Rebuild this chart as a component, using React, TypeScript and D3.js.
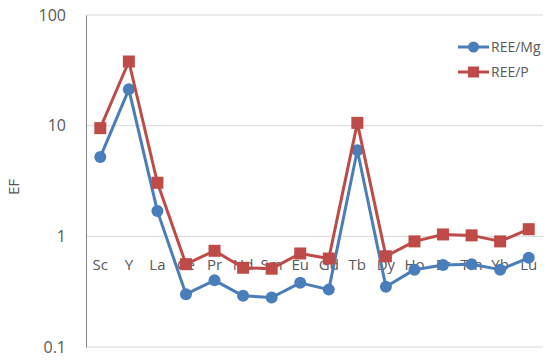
import React from 'react';
import * as d3 from 'd3';

const elements = ['Sc', 'Y', 'La', 'Ce', 'Pr', 'Nd', 'Sm', 'Eu', 'Gd', 'Tb', 'Dy', 'Ho', 'Er', 'Tm', 'Yb', 'Lu'];
const reeMg = [5.2, 21.3, 1.69, 0.30, 0.40, 0.29, 0.28, 0.38, 0.33, 6.0, 0.35, 0.50, 0.55, 0.56, 0.50, 0.64];
const reeP = [9.5, 38, 3.05, 0.56, 0.74, 0.52, 0.51, 0.70, 0.63, 10.6, 0.66, 0.90, 1.04, 1.02, 0.90, 1.16];
const yTicks = [0.1, 1, 10, 100];

const series = [
    { name: 'REE/Mg', values: reeMg, color: '#4A7EBB', marker: 'circle' },
    { name: 'REE/P', values: reeP, color: '#BE4B48', marker: 'square' },
];

const width = 550, height = 361;
const marginLeft = 86, marginRight = 7, marginTop = 15, marginBottom = 14;

export default function App() {
    const ref = React.useRef<SVGSVGElement>(null);

    React.useEffect(() => {
        const svg = d3.select(ref.current);
        svg.selectAll('*').remove();

        const x = d3.scaleBand(elements, [marginLeft, width - marginRight]);
        const y = d3.scaleLog([0.1, 100], [height - marginBottom, marginTop]);
        const cx = (d: string) => x(d)! + x.bandwidth() / 2;

        // gridlines
        svg.append('g')
            .selectAll('line')
            .data(yTicks)
            .join('line')
            .attr('x1', marginLeft)
            .attr('x2', width - marginRight)
            .attr('y1', d => y(d))
            .attr('y2', d => y(d))
            .attr('stroke', '#D9D9D9')
            .attr('stroke-width', 1);

        // y axis
        const yAxis = d3.axisLeft(y).tickValues(yTicks).tickFormat(d => String(d)).tickSize(0).tickPadding(20);
        svg.append('g')
            .attr('transform', `translate(${marginLeft},0)`)
            .call(yAxis)
            .call(g => g.select('.domain').attr('stroke', '#868686'))
            .call(g => g.selectAll('.tick text')
                .attr('fill', '#595959')
                .attr('font-size', 16)
                .attr('font-family', 'Open Sans, sans-serif'));

        svg.append('text')
            .attr('transform', `translate(19,${(y(1) + y(10)) / 2 + 6}) rotate(-90)`)
            .attr('text-anchor', 'middle')
            .attr('fill', '#595959')
            .attr('font-size', 15)
            .attr('font-family', 'Open Sans, sans-serif')
            .text('EF');

        // category labels at y = 1
        svg.append('g')
            .selectAll('text')
            .data(elements)
            .join('text')
            .attr('x', cx)
            .attr('y', y(1) + 34)
            .attr('text-anchor', 'middle')
            .attr('fill', '#595959')
            .attr('font-size', 15)
            .attr('font-family', 'Open Sans, sans-serif')
            .text(d => d);

        const line = d3.line<number>()
            .x((_, i) => cx(elements[i]))
            .y(d => y(d));

        series.forEach(s => {
            const g = svg.append('g');
            g.append('path')
                .attr('d', line(s.values))
                .attr('fill', 'none')
                .attr('stroke', s.color)
                .attr('stroke-width', 3)
                .attr('stroke-linejoin', 'round');
            if (s.marker === 'circle') {
                g.selectAll('circle')
                    .data(s.values)
                    .join('circle')
                    .attr('cx', (_, i) => cx(elements[i]))
                    .attr('cy', d => y(d))
                    .attr('r', 6)
                    .attr('fill', s.color);
            } else {
                g.selectAll('rect')
                    .data(s.values)
                    .join('rect')
                    .attr('x', (_, i) => cx(elements[i]) - 6)
                    .attr('y', d => y(d) - 6)
                    .attr('width', 12)
                    .attr('height', 12)
                    .attr('fill', s.color);
            }
        });

        // legend
        const legend = svg.append('g').attr('transform', 'translate(458,47)');
        series.forEach((s, i) => {
            const g = legend.append('g').attr('transform', `translate(0,${i * 25})`);
            g.append('line').attr('x1', 0).attr('x2', 31).attr('stroke', s.color).attr('stroke-width', 3);
            if (s.marker === 'circle') {
                g.append('circle').attr('cx', 15.5).attr('r', 5.5).attr('fill', s.color);
            } else {
                g.append('rect').attr('x', 10).attr('y', -5.5).attr('width', 11).attr('height', 11).attr('fill', s.color);
            }
            g.append('text')
                .attr('x', 33)
                .attr('dy', '0.35em')
                .attr('fill', '#595959')
                .attr('font-size', 14)
                .attr('font-family', 'Open Sans, sans-serif')
                .text(s.name);
        });
    }, []);

    return <svg ref={ref} width={width} height={height} style={{ position: 'absolute', left: 0, top: 0 }} />;
}
